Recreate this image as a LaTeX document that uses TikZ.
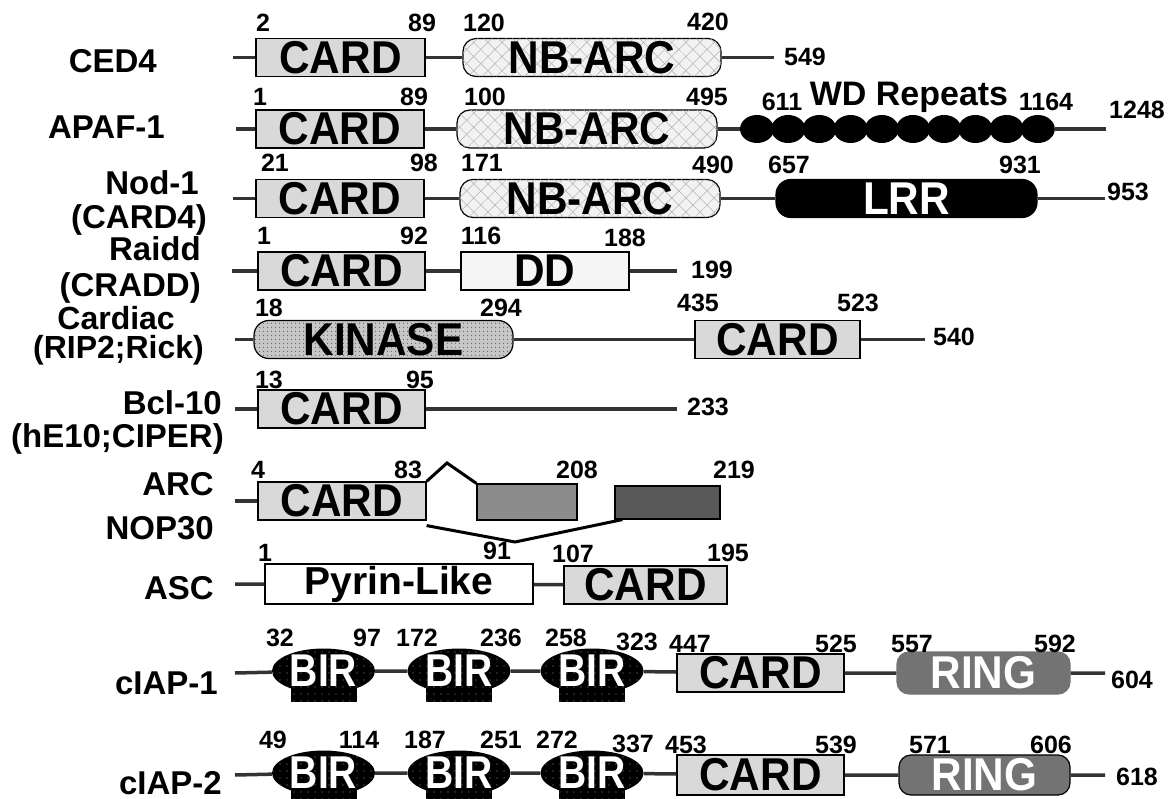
\documentclass[tikz,border=0pt]{standalone}
\usepackage{fontspec}
\setmainfont{Liberation Sans}
\newfontfamily\domfont[FakeStretch=0.92]{Liberation Sans}
\newfontfamily\birfont[FakeStretch=0.85]{Liberation Sans}
\usetikzlibrary{shapes.geometric,patterns.meta,backgrounds}

\begin{document}
\begin{tikzpicture}[
  x=1pt, y=-1pt,
  dom/.style={draw, line width=1.2pt, inner sep=0pt, minimum height=38pt, font=\domfont\fontsize{46}{46}\selectfont\bfseries},
  card/.style={dom, fill=black!15},
  nbarc/.style={dom, rounded corners=13pt, fill=black!5, postaction={pattern={Hatch[angle=45,distance=10pt,line width=0.5pt]}, pattern color=black!30}},
  kinase/.style={dom, rounded corners=15pt, fill=black!22, postaction={pattern={Dots[distance=4pt,radius=0.8pt]}, pattern color=black!60}},
  dd/.style={dom, fill=black!4},
  lrr/.style={dom, rounded corners=15pt, fill=black, text=white},
  pyrin/.style={dom, fill=white},
  ring/.style={dom, rounded corners=12pt, draw=black!55, fill=black!55, text=white},
  wd/.style={ellipse, fill=black, inner sep=0pt, minimum width=34pt, minimum height=28pt},
  bir/.style={ellipse, fill=black, text=white, inner sep=0pt, minimum width=103pt, minimum height=45pt, font=\birfont\fontsize{46}{46}\selectfont\bfseries, postaction={pattern={Dots[distance=7pt,radius=0.7pt]}, pattern color=black!45}},
  backbone/.style={line width=3.5pt, black!80},
  splice/.style={line width=3pt},
  prot/.style={anchor=east, inner sep=0pt, text height=24pt, text depth=2pt, font=\fontsize{33}{33}\selectfont\bfseries},
  num/.style={inner sep=0pt, font=\fontsize{25}{25}\selectfont\bfseries},
]
  \path[use as bounding box] (0,0) rectangle (1176,799);

  % CED4
  \node[prot] (l-ced) at (157,62) {CED4};
  \coordinate (ced-s) at (233,57.5);
  \coordinate (ced-e) at (774,57.5);
  \node[card, minimum width=169pt] (ced-card) at (340.5,57.5) {CARD};
  \node[nbarc, minimum width=258pt] (ced-nb) at (592,57.5) {NB-ARC};
  \draw[backbone] (ced-s) -- (ced-card) -- (ced-nb) -- (ced-e);
  \node[num] (n-ced1) at (263,23) {2};
  \node[num] (n-ced2) at (422,23) {89};
  \node[num] (n-ced3) at (484,23) {120};
  \node[num] (n-ced4) at (708,22) {420};
  \node[num] (n-ced5) at (805,57) {549};

  % APAF-1
  \node[prot] (l-apaf) at (165,128) {APAF-1};
  \coordinate (apaf-s) at (236,129);
  \coordinate (apaf-e) at (1106,129);
  \node[card, minimum width=168pt] (apaf-card) at (340,129) {CARD};
  \node[nbarc, minimum width=260pt] (apaf-nb) at (587,129) {NB-ARC};
  \foreach \i in {1,...,10}
    \node[wd] (wd\i) at ({757+31.2*(\i-1)},129) {};
  \draw[backbone] (apaf-s) -- (apaf-card) -- (apaf-nb) -- (wd1);
  \draw[backbone] (wd10) -- (apaf-e);
  \node[num] (n-apaf1) at (260,97) {1};
  \node[num] (n-apaf2) at (414,97) {89};
  \node[num] (n-apaf3) at (485,97) {100};
  \node[num] (n-apaf4) at (707,97) {495};
  \node[num] (n-apaf5) at (782,102) {611};
  \node[inner sep=0pt, font=\fontsize{34}{34}\selectfont\bfseries] (wdlab) at (909,97) {WD Repeats};
  \node[num] (n-apaf6) at (1046,102) {1164};
  \node[num] (n-apaf7) at (1137,110) {1248};

  % Nod-1
  \node[prot] (l-nod) at (199,184) {Nod-1};
  \node[prot] (l-nod2) at (207,218) {(CARD4)};
  \coordinate (nod-s) at (233,198.5);
  \coordinate (nod-e) at (1105,198.5);
  \node[card, minimum width=168pt] (nod-card) at (340,198.5) {CARD};
  \node[nbarc, minimum width=260pt] (nod-nb) at (590,198.5) {NB-ARC};
  \node[lrr, minimum width=261pt] (nod-lrr) at (906.5,198.5) {LRR};
  \draw[backbone] (nod-s) -- (nod-card) -- (nod-nb) -- (nod-lrr) -- (nod-e);
  \node[num] (n-nod1) at (275,163) {21};
  \node[num] (n-nod2) at (424,163) {98};
  \node[num] (n-nod3) at (482,163) {171};
  \node[num] (n-nod4) at (713,165) {490};
  \node[num] (n-nod5) at (789,165) {657};
  \node[num] (n-nod6) at (1020,165) {931};
  \node[num] (n-nod7) at (1128,192) {953};

  % Raidd
  \node[prot] (l-rai) at (201,250) {Raidd};
  \node[prot] (l-rai2) at (201,286) {(CRADD)};
  \coordinate (rai-s) at (232,271);
  \coordinate (rai-e) at (677,271);
  \node[card, minimum width=167pt] (rai-card) at (341.5,271) {CARD};
  \node[dd, minimum width=168pt] (rai-dd) at (545,271) {DD};
  \draw[backbone] (rai-s) -- (rai-card) -- (rai-dd) -- (rai-e);
  \node[num] (n-rai1) at (264,236) {1};
  \node[num] (n-rai2) at (414,236) {92};
  \node[num] (n-rai3) at (481,236) {116};
  \node[num] (n-rai4) at (625,238) {188};
  \node[num] (n-rai5) at (712,270) {199};

  % Cardiac
  \node[prot, font=\fontsize{32}{32}\selectfont\bfseries] (l-car) at (175,319) {Cardiac};
  \node[prot, font=\fontsize{32}{32}\selectfont\bfseries] (l-car2) at (204,348) {(RIP2;Rick)};
  \coordinate (car-s) at (235,339.5);
  \coordinate (car-e) at (925,339.5);
  \node[kinase, minimum width=259pt] (car-kin) at (383.5,339.5) {KINASE};
  \node[card, minimum width=165pt] (car-card) at (777.5,339.5) {CARD};
  \draw[backbone] (car-s) -- (car-kin) -- (car-card) -- (car-e);
  \node[num] (n-car1) at (269,308) {18};
  \node[num] (n-car2) at (501,308) {294};
  \node[num] (n-car3) at (698,303) {435};
  \node[num] (n-car4) at (858,303) {523};
  \node[num] (n-car5) at (954,337) {540};

  % Bcl-10
  \node[prot] (l-bcl) at (222,404) {Bcl-10};
  \node[prot] (l-bcl2) at (224,437) {(hE10;CIPER)};
  \coordinate (bcl-s) at (235,409);
  \coordinate (bcl-e) at (677,409);
  \node[card, minimum width=167pt] (bcl-card) at (341.5,409) {CARD};
  \draw[backbone] (bcl-s) -- (bcl-card) -- (bcl-e);
  \node[num] (n-bcl1) at (269,380) {13};
  \node[num] (n-bcl2) at (420,380) {95};
  \node[num] (n-bcl3) at (708,407) {233};

  % ARC / NOP30
  \node[prot] (l-arc) at (214,485) {ARC};
  \node[prot] (l-arc2) at (214,528) {NOP30};
  \coordinate (arc-s) at (235,501);
  \coordinate (arc-up) at (447,463);
  \coordinate (arc-low) at (515,542);
  \node[card, minimum width=168pt] (arc-card) at (342,501) {CARD};
  \node[dom, fill=black!45, minimum width=100pt, minimum height=36pt] (arc-mid) at (527,502) {};
  \node[dom, fill=black!65, minimum width=105pt, minimum height=33pt] (arc-dark) at (667.5,502.5) {};
  \draw[backbone] (arc-s) -- (arc-card);
  \draw[splice] (arc-card.north east) -- (arc-up) -- (arc-mid.north west);
  \draw[splice] ([yshift=-5pt]arc-card.south east) -- (arc-low) -- ([xshift=8pt]arc-dark.south west);
  \node[num] (n-arc1) at (258,470) {4};
  \node[num] (n-arc2) at (408,470) {83};
  \node[num] (n-arc3) at (577,470) {208};
  \node[num] (n-arc4) at (734,470) {219};

  % ASC
  \node[prot] (l-asc) at (214,588) {ASC};
  \coordinate (asc-s) at (235,584);
  \node[pyrin, minimum width=268pt, minimum height=40pt, font=\fontsize{39}{39}\selectfont\bfseries] (asc-pyr) at (399,584) {Pyrin-Like};
  \node[card, minimum width=163pt] (asc-card) at (645.5,585) {CARD};
  \draw[backbone] (asc-s) -- (asc-pyr) -- (asc-card);
  \node[num] (n-asc1) at (265,553) {1};
  \node[num] (n-asc2) at (497,551) {91};
  \node[num] (n-asc3) at (573,554) {107};
  \node[num] (n-asc4) at (728,553) {195};

  % cIAP-1
  \node[prot] (l-ia1) at (218,683) {cIAP-1};
  \coordinate (ia1-s) at (235,673);
  \coordinate (ia1-e) at (1105,673);
  \node[bir] (ia1-b1) at (323.5,671) {BIR};
  \node[bir] (ia1-b2) at (459,671) {BIR};
  \node[bir] (ia1-b3) at (592,671) {BIR};
  \node[card, minimum width=167pt] (ia1-card) at (760.5,673) {CARD};
  \node[ring, minimum width=173pt, minimum height=42pt] (ia1-ring) at (983.5,673) {RING};
  \draw[backbone] (ia1-s) -- (ia1-b1) -- (ia1-b2) -- (ia1-b3) -- (ia1-card) -- (ia1-ring) -- (ia1-e);
  \node[num] (n-ia1a) at (280,638) {32};
  \node[num] (n-ia1b) at (367,638) {97};
  \node[num] (n-ia1c) at (417,638) {172};
  \node[num] (n-ia1d) at (501,638) {236};
  \node[num] (n-ia1e) at (566,638) {258};
  \node[num] (n-ia1f) at (637,642) {323};
  \node[num] (n-ia1g) at (690,644) {447};
  \node[num] (n-ia1h) at (836,644) {525};
  \node[num] (n-ia1i) at (912,644) {557};
  \node[num] (n-ia1j) at (1055,644) {592};
  \node[num] (n-ia1k) at (1132,680) {604};

  % cIAP-2
  \node[prot] (l-ia2) at (222,783) {cIAP-2};
  \coordinate (ia2-s) at (235,775);
  \coordinate (ia2-e) at (1105,775);
  \node[bir] (ia2-b1) at (323.5,773) {BIR};
  \node[bir] (ia2-b2) at (459,773) {BIR};
  \node[bir] (ia2-b3) at (592,773) {BIR};
  \node[card, minimum width=167pt, minimum height=40pt] (ia2-card) at (760.5,775) {CARD};
  \node[ring, draw=black, minimum width=171pt, minimum height=40pt] (ia2-ring) at (984.5,775) {RING};
  \draw[backbone] (ia2-s) -- (ia2-b1) -- (ia2-b2) -- (ia2-b3) -- (ia2-card) -- (ia2-ring) -- (ia2-e);
  \node[num] (n-ia2a) at (273,740) {49};
  \node[num] (n-ia2b) at (359,740) {114};
  \node[num] (n-ia2c) at (425,740) {187};
  \node[num] (n-ia2d) at (501,740) {251};
  \node[num] (n-ia2e) at (557,740) {272};
  \node[num] (n-ia2f) at (633,744) {337};
  \node[num] (n-ia2g) at (686,745) {453};
  \node[num] (n-ia2h) at (836,745) {539};
  \node[num] (n-ia2i) at (930,745) {571};
  \node[num] (n-ia2j) at (1051,745) {606};
  \node[num] (n-ia2k) at (1137,777) {618};

  % flat feet under the BIR domains
  \begin{scope}[on background layer]
    \foreach \b in {ia1-b1,ia1-b2,ia1-b3,ia2-b1,ia2-b2,ia2-b3}
      \fill[black, postaction={pattern={Dots[distance=7pt,radius=0.7pt]}, pattern color=black!45}]
        ([xshift=-33pt]\b.center) rectangle ([xshift=33pt,yshift=-31pt]\b.center);
  \end{scope}
\end{tikzpicture}
\end{document}
